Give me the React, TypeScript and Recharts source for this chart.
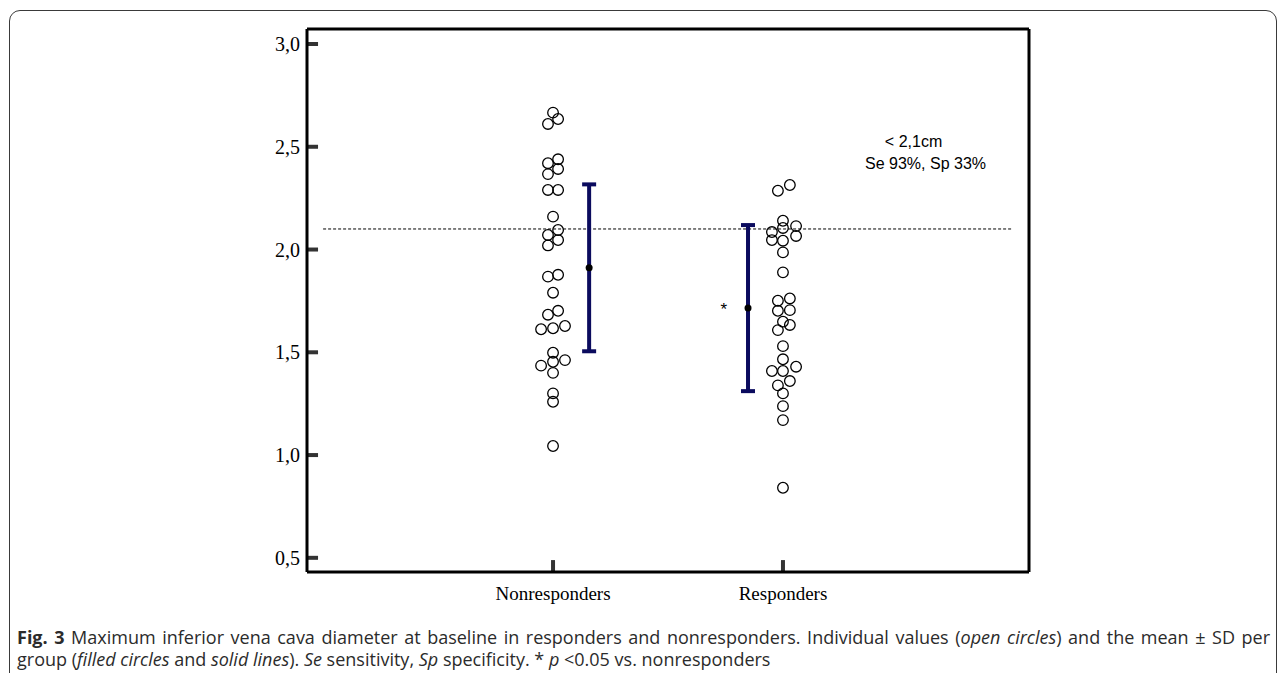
import React from 'react';
import { ScatterChart, Scatter, XAxis, YAxis, ReferenceLine, ErrorBar } from 'recharts';

// ---- data ----
const groups = ['Nonresponders', 'Responders'];
const groupPositions = [1, 2];

const nonresponderValues = [
  2.666, 2.635, 2.611,
  2.439, 2.42, 2.392, 2.367,
  2.29, 2.29,
  2.16,
  2.095, 2.071, 2.046, 2.02,
  1.877, 1.868,
  1.79,
  1.702, 1.683,
  1.628, 1.617, 1.612,
  1.498, 1.462, 1.454, 1.435, 1.4,
  1.3, 1.259,
  1.044,
];
const nonresponderJitter = [
  0, 0.022, -0.022,
  0.022, -0.022, 0.022, -0.022,
  -0.022, 0.022,
  0,
  0.022, -0.022, 0.022, -0.022,
  0.022, -0.022,
  0,
  0.022, -0.022,
  0.052, 0, -0.052,
  0, 0.052, 0, -0.052, 0,
  0, 0,
  0,
];

const responderValues = [
  2.314, 2.286,
  2.14, 2.114, 2.105, 2.085, 2.066, 2.046, 2.043,
  1.986,
  1.889,
  1.762, 1.751, 1.705, 1.702,
  1.649, 1.633, 1.608,
  1.53,
  1.466, 1.43, 1.409, 1.409,
  1.36, 1.339, 1.3,
  1.238,
  1.17,
  0.841,
];
const responderJitter = [
  0.03, -0.022,
  0, 0.057, 0, -0.048, 0.057, -0.048, 0,
  0,
  0,
  0.03, -0.022, 0.03, -0.022,
  0, 0.03, -0.022,
  0,
  0, 0.057, -0.048, 0,
  0.03, -0.022, 0,
  0,
  0,
  0,
];

const groupMeans = [1.911, 1.715];
const groupSD = [0.406, 0.404];
const meanBarOffsets = [0.157, -0.152];

const cutoff = 2.1;
const yTicks = [0.5, 1.0, 1.5, 2.0, 2.5, 3.0];
const yTickLabels = ['0,5', '1,0', '1,5', '2,0', '2,5', '3,0'];
const annotationLines = ['< 2,1cm', 'Se 93%, Sp 33%'];

// ---- axis frame ----
const xDomain: [number, number] = [-0.07, 3.07];
const yDomain: [number, number] = [0.431, 3.073];
const yTickMarkLen = 0.048; // inward tick length, x-axis units
const xTickMarkLen = 0.058; // inward tick length, y-axis units

// ---- derived tables ----
const nonresponderPoints = nonresponderValues.map((v, i) => ({ x: groupPositions[0] + nonresponderJitter[i], y: v }));
const responderPoints = responderValues.map((v, i) => ({ x: groupPositions[1] + responderJitter[i], y: v }));
const meanPoints = groupMeans.map((m, i) => ({ x: groupPositions[i] + meanBarOffsets[i], y: m, err: groupSD[i] }));

const OpenCircle = (props: any) => (
  <circle cx={props.cx} cy={props.cy} r={5.3} fill="none" stroke="#000" strokeWidth={1.3} />
);
const MeanDot = (props: any) => <circle cx={props.cx} cy={props.cy} r={3.5} fill="#000" />;

const YTick = (props: any) => {
  const { x, y, payload } = props;
  const idx = yTicks.indexOf(payload.value);
  return (
    <text x={x} y={y} dy="0.36em" textAnchor="end" fontFamily="'Liberation Serif', serif" fontSize={20} fill="#000">
      {idx >= 0 ? yTickLabels[idx] : payload.value}
    </text>
  );
};

const XTick = (props: any) => {
  const { x, y, payload } = props;
  const idx = groupPositions.indexOf(payload.value);
  return (
    <text x={x} y={y + 20} textAnchor="middle" fontFamily="'Liberation Serif', serif" fontSize={19} fill="#000">
      {idx >= 0 ? groups[idx] : ''}
    </text>
  );
};

const AnnotationLabel = (props: any) => {
  const vb = props.viewBox || {};
  return (
    <g>
      {annotationLines.map((t, i) => (
        <text key={i} x={vb.x + (i === 0 ? -12 : 0)} y={vb.y + i * 22} textAnchor="middle" fontFamily="'Liberation Sans', Arial, sans-serif" fontSize={16} fill="#000">
          {t}
        </text>
      ))}
    </g>
  );
};

const Star = (props: any) => {
  const vb = props.viewBox || {};
  return (
    <text x={vb.x} y={vb.y} dy="0.62em" textAnchor="middle" fontFamily="'Liberation Sans', Arial, sans-serif" fontSize={17} fill="#000">
      *
    </text>
  );
};

export default function App() {
  return (
    <div style={{ position: 'absolute', left: 0, top: 0, width: 1282, height: 673, background: '#fff', overflow: 'hidden' }}>
      <div
        style={{
          position: 'absolute',
          left: 9,
          top: 10,
          width: 1268,
          height: 720,
          border: '1.5px solid #3a3a3a',
          borderRadius: 11,
          boxSizing: 'border-box',
        }}
      />
      <div style={{ position: 'absolute', left: 0, top: 0 }}>
        <ScatterChart width={1282} height={673} margin={{ top: 29, right: 253, bottom: 71, left: 247 }}>
          <XAxis
            type="number"
            dataKey="x"
            domain={xDomain}
            allowDataOverflow
            ticks={groupPositions}
            tick={<XTick />}
            tickLine={false}
            height={30}
            axisLine={{ stroke: '#000', strokeWidth: 3 }}
          />
          <YAxis
            type="number"
            dataKey="y"
            domain={yDomain}
            allowDataOverflow
            ticks={yTicks}
            tick={<YTick />}
            tickLine={false}
            tickMargin={1}
            width={60}
            axisLine={{ stroke: '#000', strokeWidth: 3 }}
          />
          {yTicks.map((t) => (
            <ReferenceLine
              key={'yt' + t}
              segment={[{ x: xDomain[0], y: t }, { x: xDomain[0] + yTickMarkLen, y: t }]}
              stroke="#333"
              strokeWidth={4}
              ifOverflow="visible"
            />
          ))}
          {groupPositions.map((g) => (
            <ReferenceLine
              key={'xt' + g}
              segment={[{ x: g, y: yDomain[0] }, { x: g, y: yDomain[0] + xTickMarkLen }]}
              stroke="#333"
              strokeWidth={4}
              ifOverflow="visible"
            />
          ))}
          <ReferenceLine x={xDomain[1]} stroke="#000" strokeWidth={3} ifOverflow="visible" />
          <ReferenceLine y={yDomain[1]} stroke="#000" strokeWidth={3} ifOverflow="visible" />
          <ReferenceLine
            segment={[{ x: 0, y: cutoff }, { x: 3.0, y: cutoff }]}
            stroke="#000"
            strokeWidth={1}
            strokeDasharray="3 2"
          />
          <ReferenceLine
            segment={[{ x: 2.62, y: 2.5 }, { x: 2.62, y: 2.5 }]}
            stroke="none"
            label={<AnnotationLabel />}
          />
          <Scatter data={nonresponderPoints} shape={<OpenCircle />} isAnimationActive={false} />
          <Scatter data={responderPoints} shape={<OpenCircle />} isAnimationActive={false} />
          <Scatter data={meanPoints} shape={<MeanDot />} isAnimationActive={false}>
            <ErrorBar dataKey="err" direction="y" width={7} stroke="#0b0b5e" strokeWidth={4} />
          </Scatter>
          <ReferenceLine
            segment={[{ x: 1.743, y: 1.735 }, { x: 1.743, y: 1.735 }]}
            stroke="none"
            label={<Star />}
          />
        </ScatterChart>
      </div>
      <div
        style={{
          position: 'absolute',
          left: 17,
          top: 626,
          width: 1253,
          fontFamily: "'Open Sans', sans-serif",
          fontSize: 18,
          lineHeight: '22px',
          color: '#2b2b2b',
        }}
      >
        <div style={{ textAlign: 'justify', textAlignLast: 'justify', whiteSpace: 'nowrap' }}>
          <b>Fig. 3</b> Maximum inferior vena cava diameter at baseline in responders and nonresponders. Individual values (<i>open circles</i>) and the mean ± SD per
        </div>
        <div style={{ whiteSpace: 'nowrap' }}>
          group (<i>filled circles</i> and <i>solid lines</i>). <i>Se</i> sensitivity, <i>Sp</i> specificity. * <i>p</i> &lt;0.05 vs. nonresponders
        </div>
      </div>
    </div>
  );
}
